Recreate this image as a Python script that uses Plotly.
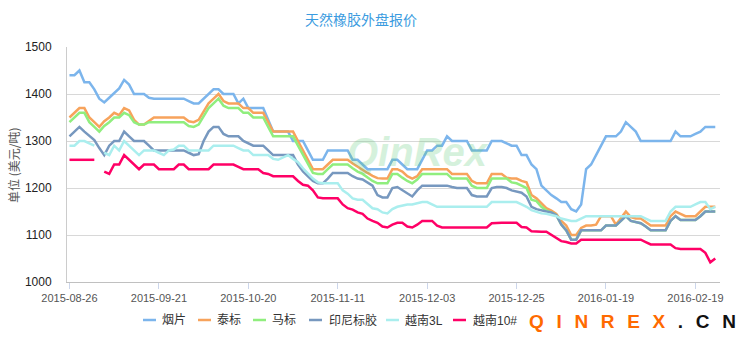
import plotly.graph_objects as go

# ---------------- data ----------------
tick_labels = ["2015-08-26", "2015-09-21", "2015-10-20", "2015-11-11",
               "2015-12-03", "2015-12-25", "2016-01-19", "2016-02-19"]
tick_step = 18
n_points = 131
series_names = ["烟片", "泰标", "马标", "印尼标胶", "越南3L", "越南10#"]
series_colors = ["#7cb5ec", "#f7a35c", "#90ee7e", "#7798bf", "#aaeeee", "#ff0066"]

yanpian = [1440, 1440, 1450, 1425, 1425, 1410, 1390, 1382, 1392, 1402,
           1412, 1430, 1420, 1400, 1400, 1400, 1392, 1390, 1390, 1390,
           1390, 1390, 1390, 1390, 1385, 1380, 1380, 1390, 1402, 1410,
           1410, 1400, 1400, 1400, 1380, 1390, 1370, 1370, 1370, 1370,
           1345, 1320, 1320, 1320, 1320, 1300, 1300, 1300, 1280, 1260,
           1260, 1260, 1280, 1280, 1280, 1280, 1280, 1260, 1260, 1250,
           1240, 1240, 1240, 1240, 1240, 1260, 1260, 1250, 1240, 1240,
           1240, 1260, 1280, 1280, 1290, 1290, 1310, 1300, 1300, 1300,
           1300, 1280, 1280, 1280, 1280, 1300, 1300, 1300, 1295, 1290,
           1290, 1270, 1270, 1250, 1240, 1205, 1195, 1185, 1178, 1170,
           1170, 1155, 1150, 1165, 1240, 1250, 1270, 1290, 1310, 1310,
           1310, 1320, 1340, 1330, 1320, 1300, 1300, 1300, 1300, 1300,
           1300, 1300, 1320, 1310, 1310, 1310, 1315, 1320, 1330, 1330,
           1330]

taibiao = [1350, 1360, 1370, 1370, 1350, 1340, 1330, 1342, 1350, 1360,
           1355, 1370, 1365, 1345, 1335, 1335, 1342, 1350, 1350, 1350,
           1350, 1350, 1350, 1350, 1342, 1340, 1345, 1362, 1380, 1390,
           1400, 1385, 1380, 1380, 1380, 1370, 1370, 1360, 1360, 1360,
           1340, 1320, 1320, 1320, 1320, 1320, 1300, 1280, 1262, 1240,
           1240, 1240, 1250, 1260, 1260, 1260, 1260, 1252, 1245, 1238,
           1232, 1226, 1221, 1220, 1220, 1240, 1240, 1235, 1225, 1220,
           1225, 1240, 1240, 1240, 1240, 1240, 1240, 1230, 1230, 1230,
           1230, 1215, 1210, 1210, 1210, 1230, 1230, 1230, 1222, 1220,
           1220, 1215, 1212, 1185, 1178, 1168, 1157, 1152, 1145, 1130,
           1120, 1100, 1100, 1115, 1120, 1120, 1122, 1140, 1140, 1140,
           1122, 1135, 1150, 1138, 1135, 1135, 1128, 1120, 1120, 1120,
           1120, 1140, 1150, 1145, 1140, 1140, 1140, 1150, 1160, 1160,
           1160]

mabiao = [1340, 1350, 1360, 1360, 1340, 1330, 1320, 1332, 1340, 1350,
          1350, 1360, 1355, 1340, 1335, 1335, 1340, 1340, 1340, 1340,
          1340, 1340, 1340, 1340, 1332, 1330, 1335, 1352, 1370, 1380,
          1390, 1375, 1370, 1370, 1370, 1360, 1360, 1350, 1350, 1350,
          1330, 1310, 1310, 1310, 1310, 1310, 1290, 1270, 1252, 1232,
          1230, 1230, 1240, 1250, 1250, 1250, 1250, 1242, 1235, 1230,
          1222, 1215, 1210, 1210, 1210, 1230, 1230, 1222, 1215, 1210,
          1218, 1230, 1230, 1230, 1230, 1230, 1230, 1220, 1220, 1220,
          1220, 1205, 1200, 1200, 1200, 1220, 1220, 1220, 1220, 1212,
          1210, 1205, 1200, 1175, 1172, 1160, 1152, 1148, 1142, 1122,
          1110, 1090, 1090, 1110, 1110, 1110, 1110, 1110, 1120, 1120,
          1120, 1130, 1140, 1130, 1128, 1125, 1118, 1110, 1110, 1110,
          1110, 1130, 1140, 1132, 1132, 1132, 1132, 1140, 1150, 1150,
          1150]

yinni = [1310, 1320, 1330, 1320, 1310, 1302, 1285, 1270, 1290, 1300,
         1300, 1320, 1310, 1300, 1300, 1300, 1290, 1280, 1280, 1280,
         1280, 1280, 1280, 1280, 1275, 1270, 1272, 1300, 1320, 1330,
         1330, 1315, 1310, 1310, 1310, 1300, 1295, 1290, 1290, 1290,
         1280, 1270, 1270, 1270, 1270, 1270, 1250, 1235, 1225, 1215,
         1210, 1210, 1220, 1232, 1232, 1232, 1232, 1225, 1220, 1218,
         1212, 1205, 1185, 1180, 1180, 1200, 1202, 1195, 1188, 1182,
         1195, 1205, 1205, 1205, 1205, 1205, 1205, 1202, 1200, 1200,
         1200, 1185, 1182, 1182, 1182, 1200, 1202, 1202, 1200, 1195,
         1193, 1190, 1182, 1160, 1155, 1152, 1150, 1148, 1142, 1122,
         1110, 1090, 1090, 1110, 1110, 1110, 1110, 1110, 1120, 1120,
         1120, 1130, 1140, 1130, 1128, 1125, 1118, 1110, 1110, 1110,
         1110, 1130, 1140, 1132, 1132, 1132, 1132, 1140, 1150, 1150,
         1150]

yuenan3l = [1290, 1290, 1300, 1300, 1295, 1290, None, 1275, 1270, 1290,
            1280, 1300, 1290, 1280, 1270, 1280, 1280, 1280, 1275, 1270,
            1280, 1282, 1290, 1290, 1280, 1280, 1280, 1280, 1280, 1290,
            1290, 1290, 1290, 1290, 1285, 1280, 1280, 1270, 1270, 1270,
            1270, 1262, 1260, 1265, 1270, 1262, 1255, 1242, 1230, 1220,
            1212, 1210, 1210, 1210, 1210, 1195, 1188, 1178, 1175, 1175,
            1165, 1157, 1155, 1148, 1146, 1155, 1160, 1163, 1165, 1165,
            1168, 1170, 1170, 1165, 1160, 1160, 1160, 1160, 1160, 1160,
            1160, 1160, 1160, 1160, 1160, 1170, 1170, 1170, 1170, 1170,
            1170, 1165, 1160, 1153, 1150, 1146, 1145, 1142, 1140, 1135,
            1132, 1130, 1130, 1135, 1140, 1140, 1140, 1140, 1140, 1140,
            1140, 1140, 1140, 1140, 1140, 1140, 1135, 1130, 1130, 1130,
            1130, 1150, 1160, 1160, 1160, 1160, 1165, 1170, 1170, 1155,
            1160]

yuenan10 = [1260, 1260, 1260, 1260, 1260, 1260, None, 1235, 1230, 1250,
            1250, 1270, 1260, 1250, 1240, 1250, 1250, 1250, 1240, 1240,
            1240, 1240, 1250, 1250, 1240, 1240, 1240, 1240, 1240, 1250,
            1250, 1250, 1250, 1250, 1245, 1240, 1240, 1240, 1240, 1232,
            1230, 1225, 1225, 1225, 1225, 1225, 1215, 1207, 1205, 1195,
            1180, 1178, 1178, 1178, 1178, 1165, 1157, 1154, 1148, 1145,
            1135, 1130, 1126, 1118, 1116, 1122, 1126, 1126, 1118, 1116,
            1122, 1130, 1130, 1130, 1120, 1116, 1116, 1116, 1116, 1116,
            1116, 1116, 1116, 1116, 1116, 1125, 1126, 1126, 1126, 1126,
            1126, 1117, 1116, 1108, 1107, 1107, 1107, 1100, 1093, 1087,
            1085, 1082, 1082, 1090, 1090, 1090, 1090, 1090, 1090, 1090,
            1090, 1090, 1090, 1090, 1090, 1090, 1085, 1080, 1080, 1080,
            1080, 1080, 1072, 1070, 1070, 1070, 1070, 1070, 1062, 1042,
            1050]

all_series = [yanpian, taibiao, mabiao, yinni, yuenan3l, yuenan10]

# ---------------- figure ----------------
W, H = 740, 340
L, R, T, B = 67, 720, 47, 282


def px(x):
    return (x - L) / (R - L)


def py(y):
    return (B - y) / (B - T)


x_idx = list(range(n_points))
fig = go.Figure()
for name, color, vals in zip(series_names, series_colors, all_series):
    fig.add_trace(go.Scatter(
        x=x_idx, y=vals, name=name, mode="lines",
        line=dict(color=color, width=2.5), connectgaps=False,
        showlegend=False, hoverinfo="skip"))

cjk = "Liberation Sans, Noto Sans CJK SC, sans-serif"

annotations = []
# title
annotations.append(dict(text="天然橡胶外盘报价", x=px(361), y=py(19), xref="paper", yref="paper",
                        showarrow=False, xanchor="center", yanchor="middle",
                        font=dict(family="Noto Sans CJK SC", size=14, color="#3a9be0")))
# y axis title
annotations.append(dict(text="单位 (美元/吨)", x=px(13), y=py(165), xref="paper", yref="paper",
                        showarrow=False, xanchor="center", yanchor="middle", textangle=-90,
                        font=dict(family="Noto Sans CJK SC", size=12, color="#555555")))
# watermark
annotations.append(dict(text="<b><i>QinRex</i></b>", x=px(418), y=py(152), xref="paper", yref="paper",
                        showarrow=False, xanchor="center", yanchor="middle", opacity=0.25,
                        font=dict(family="Liberation Sans", size=40, color="#5cc878")))

# manual legend (short line samples like the original)
legend_pos = [(143, 160), (198, 215), (253, 270), (309, 327), (386, 403), (453, 471)]
shapes = []
ly = 320
for (lx, tx), name, color in zip(legend_pos, series_names, series_colors):
    shapes.append(dict(type="line", xref="paper", yref="paper",
                       x0=px(lx), x1=px(lx + 13), y0=py(ly), y1=py(ly),
                       line=dict(color=color, width=2.5)))
    annotations.append(dict(text=name, x=px(tx), y=py(ly), xref="paper", yref="paper",
                            showarrow=False, xanchor="left", yanchor="middle",
                            font=dict(family=cjk, size=12, color="#333333")))

# logo
sp = "\u2002\u2006"
annotations.append(dict(
    text="<b><span style='color:#ff6a00'>" + sp.join("QINREX") + "</span>"
         "<span style='color:#111111'>" + sp + sp.join(".CN") + "</span></b>",
    x=px(737), y=py(321), xref="paper", yref="paper", showarrow=False,
    xanchor="right", yanchor="middle", bgcolor="#ffffff", borderpad=0,
    font=dict(family="Liberation Sans", size=19)))

fig.update_layout(
    width=W, height=H,
    margin=dict(l=L, r=W - R, t=T, b=H - B),
    paper_bgcolor="#ffffff", plot_bgcolor="#ffffff",
    showlegend=False,
    annotations=annotations, shapes=shapes,
    xaxis=dict(range=[-0.5, 130.95], tickvals=[i * tick_step for i in range(len(tick_labels))],
               ticktext=tick_labels, showgrid=False, zeroline=False,
               showline=True, linecolor="#c0c0c0", linewidth=1,
               ticks="outside", ticklen=6, tickcolor="#ccd6eb",
               tickfont=dict(family="Liberation Sans", size=11, color="#555555")),
    yaxis=dict(range=[1000, 1500], dtick=100, showgrid=True, gridcolor="#d8d8d8",
               zeroline=False, showline=True, linecolor="#cccccc", linewidth=1,
               ticks="", ticklabelstandoff=12,
               tickfont=dict(family="Liberation Sans", size=12, color="#222222")),
)

fig.write_html("out.html")
